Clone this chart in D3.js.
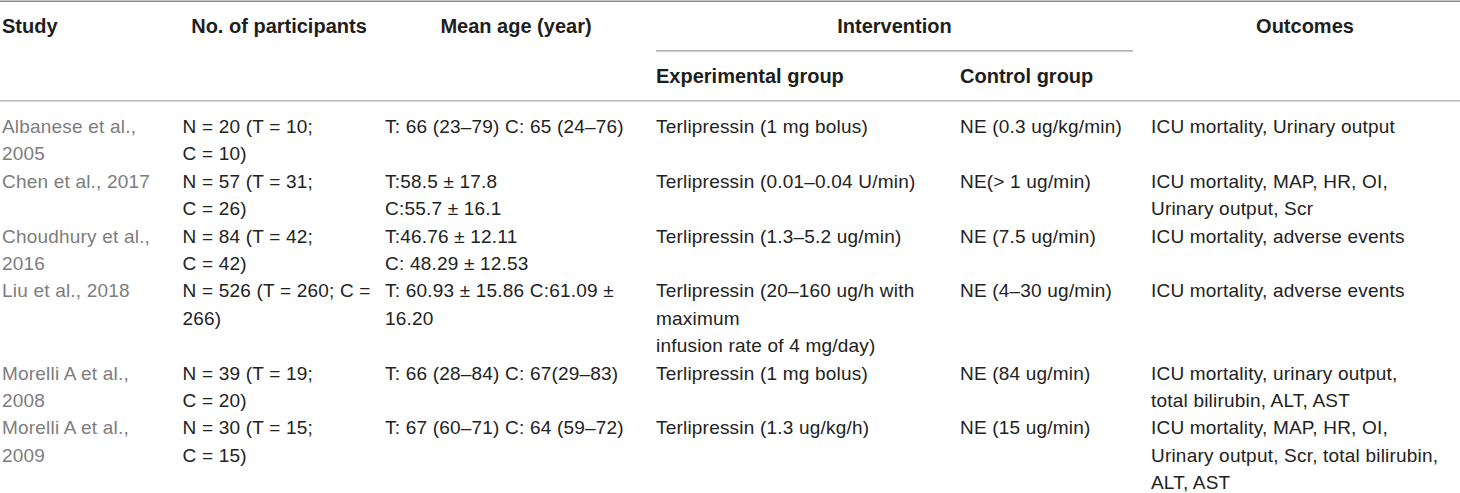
<!DOCTYPE html>
<html>
<head>
<meta charset="utf-8">
<script src="https://cdn.jsdelivr.net/npm/d3@7"></script>
<style>
  html, body { margin: 0; padding: 0; background: #fff; }
  svg { display: block; }
</style>
</head>
<body>
<div id="chart"></div>
<script>
// ---- Table content ----
const columnKeys = ["study", "participants", "meanAge", "experimental", "control", "outcomes"];

const studies = [
  ["Albanese et al.,", "2005"],
  ["Chen et al., 2017"],
  ["Choudhury et al.,", "2016"],
  ["Liu et al., 2018"],
  ["Morelli A et al.,", "2008"],
  ["Morelli A et al.,", "2009"]
];
const participants = [
  ["N = 20 (T = 10;", "C = 10)"],
  ["N = 57 (T = 31;", "C = 26)"],
  ["N = 84 (T = 42;", "C = 42)"],
  ["N = 526 (T = 260; C =", "266)"],
  ["N = 39 (T = 19;", "C = 20)"],
  ["N = 30 (T = 15;", "C = 15)"]
];
const meanAge = [
  ["T: 66 (23–79) C: 65 (24–76)"],
  ["T:58.5 ± 17.8", "C:55.7 ± 16.1"],
  ["T:46.76 ± 12.11", "C: 48.29 ± 12.53"],
  ["T: 60.93 ± 15.86 C:61.09 ±", "16.20"],
  ["T: 66 (28–84) C: 67(29–83)"],
  ["T: 67 (60–71) C: 64 (59–72)"]
];
const experimental = [
  ["Terlipressin (1 mg bolus)"],
  ["Terlipressin (0.01–0.04 U/min)"],
  ["Terlipressin (1.3–5.2 ug/min)"],
  ["Terlipressin (20–160 ug/h with", "maximum", "infusion rate of 4 mg/day)"],
  ["Terlipressin (1 mg bolus)"],
  ["Terlipressin (1.3 ug/kg/h)"]
];
const control = [
  ["NE (0.3 ug/kg/min)"],
  ["NE(> 1 ug/min)"],
  ["NE (7.5 ug/min)"],
  ["NE (4–30 ug/min)"],
  ["NE (84 ug/min)"],
  ["NE (15 ug/min)"]
];
const outcomes = [
  ["ICU mortality, Urinary output"],
  ["ICU mortality, MAP, HR, OI,", "Urinary output, Scr"],
  ["ICU mortality, adverse events"],
  ["ICU mortality, adverse events"],
  ["ICU mortality, urinary output,", "total bilirubin, ALT, AST"],
  ["ICU mortality, MAP, HR, OI,", "Urinary output, Scr, total bilirubin,", "ALT, AST"]
];

const headerTop = ["Study", "No. of participants", "Mean age (year)", "Intervention", "Outcomes"];
const headerSub = ["Experimental group", "Control group"];

// ---- Layout ----
const W = 1460, H = 493;
const svg = d3.select("#chart").append("svg").attr("width", W).attr("height", H);

const colX = d3.scaleOrdinal()
  .domain(columnKeys)
  .range([2, 182.5, 385, 656, 960, 1151]);

const lineY = d3.scaleLinear().domain([0, 1]).range([133, 160.4]);

const cols = { study: studies, participants, meanAge, experimental, control, outcomes };

// rules
const ruleG = svg.append("g");
ruleG.append("line").attr("x1", 0).attr("x2", W).attr("y1", 1.2).attr("y2", 1.2)
  .attr("stroke", "#8a8a8a").attr("stroke-width", 1.6);
ruleG.append("line").attr("x1", 656).attr("x2", 1133).attr("y1", 50.8).attr("y2", 50.8)
  .attr("stroke", "#9a9a9a").attr("stroke-width", 1.3);
ruleG.append("line").attr("x1", 0).attr("x2", W).attr("y1", 100.8).attr("y2", 100.8)
  .attr("stroke", "#b8b8b8").attr("stroke-width", 1.4);

// headers
const headFont = "'Liberation Sans', Arial, Helvetica, sans-serif";
const hdr = svg.append("g")
  .attr("font-family", headFont).attr("font-weight", "bold")
  .attr("font-size", "20px").attr("fill", "#1e1e1e");

const headerTopPos = [
  { x: 2, anchor: "start" },
  { x: 279, anchor: "middle" },
  { x: 516, anchor: "middle" },
  { x: 894.5, anchor: "middle" },
  { x: 1305, anchor: "middle" }
];
hdr.selectAll("text.top").data(headerTop).join("text")
  .attr("class", "top")
  .attr("x", (d, i) => headerTopPos[i].x)
  .attr("y", 33.3)
  .attr("text-anchor", (d, i) => headerTopPos[i].anchor)
  .text(d => d);

hdr.selectAll("text.sub").data(headerSub).join("text")
  .attr("class", "sub")
  .attr("x", (d, i) => colX(i === 0 ? "experimental" : "control"))
  .attr("y", 83)
  .text(d => d);

// body
const body = svg.append("g")
  .attr("font-family", headFont)
  .attr("font-size", "19px")
  .attr("letter-spacing", "0.2px");

let startLine = 0;
studies.forEach((s, r) => {
  const nLines = d3.max(columnKeys, k => cols[k][r].length);
  columnKeys.forEach(k => {
    body.append("g").selectAll("text").data(cols[k][r]).join("text")
      .attr("x", colX(k))
      .attr("y", (d, i) => lineY(startLine + i))
      .attr("fill", k === "study" ? "#7d7d7d" : "#222222")
      .text(d => d);
  });
  startLine += nLines;
});
</script>
</body>
</html>
